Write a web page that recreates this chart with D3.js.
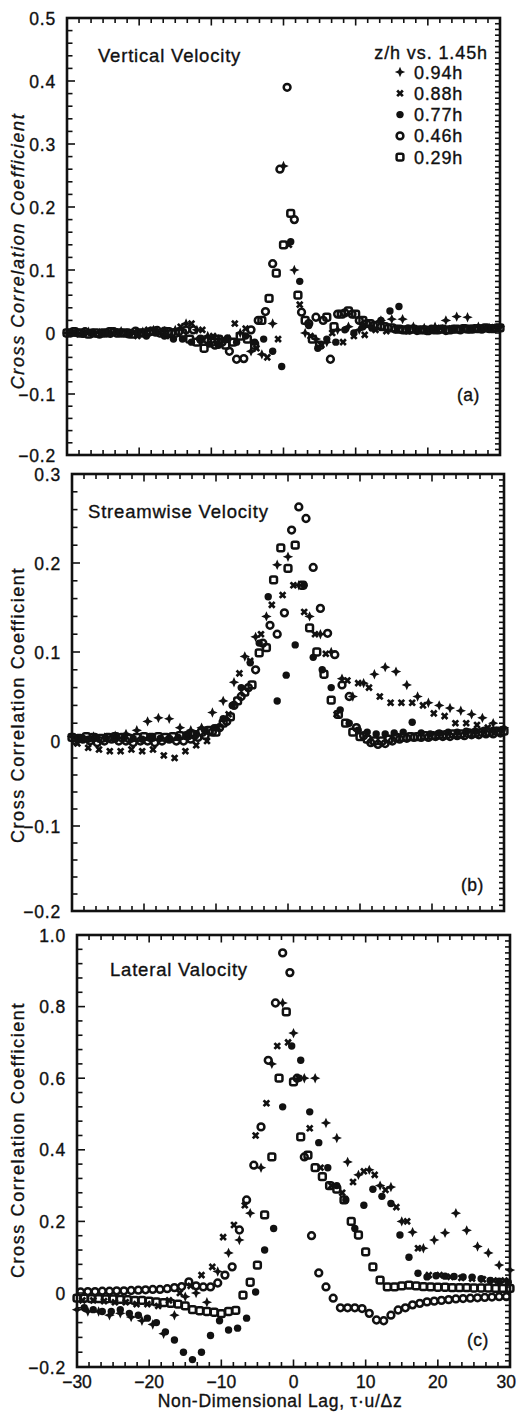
<!DOCTYPE html>
<html><head><meta charset="utf-8">
<script src="https://cdn.jsdelivr.net/npm/d3@7"></script>
<style>
body{margin:0;background:#fff}
text{font-family:"Liberation Sans",Arial,Helvetica,sans-serif;fill:#111;stroke:#111;stroke-width:0.35px}
</style>
</head><body>
<svg id="chart" width="518" height="1413"></svg>
<script>
// ---------- data ----------
const seriesNames = ["0.94h", "0.88h", "0.77h", "0.46h", "0.29h"];
const seriesSymbols = ["plus", "cross", "dot", "circle", "square"];
const lagStart = [-30, -29.25, -29, -29.5, -30];
const lagStep = [1.5, 1.5, 1.25, 1, 1];
const panelTitles = ["Vertical Velocity", "Streamwise Velocity", "Lateral Valocity"];
const panelTags = ["(a)", "(b)", "(c)"];
const legendTitle = "z/h vs. 1.45h";
const yLabel = "Cross Correlation Coefficient";
const xLabel = "Non-Dimensional Lag, \u03C4\u00B7u/\u0394z";
const xTickValues = [-30, -20, -10, 0, 10, 20, 30];
const xTickLabels = ["\u221230", "\u221220", "\u221210", "0", "10", "20", "30"];
const yTicksA = [-0.2, -0.1, 0, 0.1, 0.2, 0.3, 0.4, 0.5];
const yTickLabelsA = ["\u22120.2", "\u22120.1", "0", "0.1", "0.2", "0.3", "0.4", "0.5"];
const yTicksB = [-0.2, -0.1, 0, 0.1, 0.2, 0.3];
const yTickLabelsB = ["\u22120.2", "\u22120.1", "0", "0.1", "0.2", "0.3"];
const yTicksC = [-0.2, 0, 0.2, 0.4, 0.6, 0.8, 1.0];
const yTickLabelsC = ["\u22120.2", "0", "0.2", "0.4", "0.6", "0.8", "1.0"];

// (a) vertical velocity
const vertical094 = [0.0, 0.0, 0.002, 0.0, 0.0, 0.003, 0.0, 0.002, 0.005, 0.003, 0.005, 0.015, 0.005, -0.005, -0.01, -0.01, 0.0, -0.03, -0.035, 0.015, 0.265, 0.1, 0.0, -0.01, -0.015, 0.005, 0.01, 0.005, 0.01, 0.02, 0.022, 0.022, 0.01, 0.008, 0.01, 0.02, 0.026, 0.025, 0.01, 0.008, 0.01];
const vertical088 = [0.0, 0.0, -0.002, 0.0, 0.002, 0.0, -0.005, 0.005, 0.0, -0.005, 0.01, 0.015, 0.005, -0.005, -0.01, 0.015, 0.007, -0.025, -0.04, -0.01, 0.14, 0.045, -0.005, -0.02, 0.0, -0.015, -0.005, -0.003, 0.005, 0.003, 0.005, 0.003, 0.006, 0.005, 0.008, 0.007, 0.006, 0.008, 0.008, 0.009];
const vertical077 = [0.0, -0.002, 0.0, 0.0, -0.002, 0.0, -0.003, 0.0, -0.005, 0.0, -0.005, -0.01, -0.01, -0.015, -0.012, -0.018, -0.02, -0.008, -0.015, -0.005, -0.015, -0.01, -0.03, -0.055, 0.145, 0.082, 0.012, -0.025, -0.01, -0.015, 0.005, 0.0, 0.01, 0.008, 0.02, 0.035, 0.042, 0.008, 0.005, 0.006, 0.005, 0.007, 0.006, 0.006, 0.007, 0.007, 0.008, 0.008];
const vertical046 = [0.0, 0.0, 0.002, 0.0, -0.002, 0.0, 0.002, 0.0, 0.0, 0.003, 0.0, 0.002, 0.004, 0.003, 0.0, 0.002, 0.005, 0.005, -0.01, -0.012, -0.02, -0.015, -0.03, -0.043, -0.042, 0.005, 0.02, 0.034, 0.11, 0.26, 0.39, 0.18, 0.033, 0.015, 0.025, 0.02, -0.043, 0.03, 0.032, 0.03, 0.02, 0.015, 0.012, 0.01, 0.008, 0.006, 0.005, 0.005, 0.004, 0.005, 0.006, 0.005, 0.004, 0.006, 0.005, 0.006, 0.007, 0.006, 0.007, 0.008];
const vertical029 = [0.0, 0.002, 0.0, -0.002, 0.0, 0.0, 0.002, 0.0, 0.0, -0.002, 0.0, 0.0, 0.003, 0.0, 0.002, 0.0, 0.0, -0.01, -0.015, -0.025, -0.015, -0.01, -0.02, -0.015, -0.005, -0.01, -0.02, 0.02, 0.055, 0.095, 0.14, 0.19, 0.06, 0.02, -0.01, -0.02, 0.025, 0.01, 0.03, 0.035, 0.03, 0.02, 0.015, 0.012, 0.01, 0.008, 0.006, 0.005, 0.006, 0.005, 0.004, 0.005, 0.006, 0.005, 0.006, 0.007, 0.006, 0.007, 0.008, 0.007, 0.008];

// (b) streamwise velocity
const streamwise094 = [0.005, 0.003, 0.005, 0.004, 0.006, 0.008, 0.012, 0.022, 0.026, 0.025, 0.015, 0.012, 0.015, 0.032, 0.045, 0.066, 0.095, 0.117, 0.14, 0.198, 0.207, 0.175, 0.14, 0.12, 0.1, 0.07, 0.05, 0.065, 0.075, 0.083, 0.078, 0.063, 0.05, 0.043, 0.04, 0.037, 0.034, 0.03, 0.026, 0.02, 0.015];
const streamwise088 = [-0.003, -0.008, -0.01, -0.012, -0.012, -0.01, -0.012, -0.01, -0.017, -0.02, -0.012, -0.005, 0.0, 0.015, 0.03, 0.076, 0.09, 0.12, 0.153, 0.164, 0.175, 0.145, 0.12, 0.098, 0.03, 0.068, 0.065, 0.06, 0.05, 0.043, 0.043, 0.043, 0.04, 0.031, 0.028, 0.02, 0.02, 0.018, 0.015, 0.012];
const streamwise077 = [0.003, 0.002, 0.004, 0.003, 0.002, 0.004, 0.003, 0.002, 0.004, 0.003, 0.002, 0.004, 0.006, 0.008, 0.012, 0.015, 0.025, 0.04, 0.06, 0.088, 0.11, 0.162, 0.045, 0.074, 0.108, 0.175, 0.094, 0.08, 0.06, 0.035, 0.02, 0.012, 0.01, 0.008, 0.008, 0.009, 0.01, 0.021, 0.009, 0.008, 0.009, 0.01, 0.01, 0.011, 0.011, 0.012, 0.012, 0.013];
const streamwise046 = [0.0, 0.002, 0.0, -0.002, 0.0, 0.002, 0.0, 0.0, -0.002, 0.0, 0.0, -0.002, 0.0, 0.002, 0.0, 0.0, 0.002, 0.004, 0.006, 0.01, 0.015, 0.022, 0.04, 0.05, 0.06, 0.08, 0.11, 0.13, 0.12, 0.144, 0.237, 0.263, 0.25, 0.195, 0.149, 0.121, 0.097, 0.063, 0.05, 0.015, 0.006, -0.002, -0.004, -0.003, 0.0, 0.002, 0.003, 0.004, 0.004, 0.004, 0.005, 0.005, 0.005, 0.006, 0.006, 0.007, 0.007, 0.008, 0.008, 0.009];
const streamwise029 = [0.004, 0.003, 0.005, 0.004, 0.003, 0.004, 0.005, 0.004, 0.003, 0.004, 0.005, 0.004, 0.005, 0.004, 0.005, 0.006, 0.006, 0.007, 0.01, 0.012, 0.01, 0.02, 0.027, 0.045, 0.055, 0.063, 0.099, 0.105, 0.181, 0.217, 0.194, 0.22, 0.175, 0.127, 0.1, 0.075, 0.046, 0.03, 0.02, 0.01, 0.005, 0.002, 0.0, 0.0, 0.002, 0.004, 0.004, 0.005, 0.005, 0.006, 0.006, 0.007, 0.007, 0.008, 0.008, 0.009, 0.009, 0.01, 0.01, 0.011, 0.011];

// (c) lateral velocity
const lateral094 = [-0.045, -0.05, -0.05, -0.06, -0.055, -0.065, -0.075, -0.085, -0.11, -0.06, -0.01, 0.0, -0.025, 0.06, 0.112, 0.148, 0.223, 0.35, 0.64, 0.81, 0.726, 0.6, 0.6, 0.475, 0.433, 0.366, 0.33, 0.344, 0.3, 0.296, 0.2, 0.17, 0.125, 0.148, 0.168, 0.223, 0.175, 0.13, 0.112, 0.078, 0.064];
const lateral088 = [-0.02, -0.02, -0.022, -0.025, -0.025, -0.03, -0.03, -0.035, -0.02, 0.0, 0.02, 0.05, 0.073, 0.156, 0.19, 0.245, 0.44, 0.53, 0.69, 0.7, 0.6, 0.46, 0.35, 0.3, 0.28, 0.31, 0.34, 0.33, 0.288, 0.24, 0.2, 0.125, 0.05, 0.05, 0.045, 0.042, 0.04, 0.038, 0.035, 0.035];
const lateral077 = [-0.04, -0.045, -0.05, -0.05, -0.045, -0.055, -0.06, -0.068, -0.08, -0.105, -0.127, -0.16, -0.18, -0.16, -0.115, -0.075, -0.1, -0.095, -0.068, 0.003, 0.12, 0.18, 0.52, 0.69, 0.65, 0.506, 0.42, 0.35, 0.3, 0.26, 0.18, 0.245, 0.29, 0.27, 0.25, 0.162, 0.1, 0.055, 0.045, 0.048, 0.047, 0.046, 0.045, 0.044, 0.04, 0.035, 0.033, 0.03];
const lateral046 = [0.003, 0.004, 0.004, 0.005, 0.005, 0.006, 0.006, 0.007, 0.008, 0.009, 0.01, 0.01, 0.012, 0.015, 0.018, 0.031, 0.02, 0.017, 0.017, 0.028, 0.05, 0.073, 0.176, 0.26, 0.357, 0.464, 0.65, 0.81, 0.95, 0.895, 0.6, 0.38, 0.16, 0.056, 0.017, -0.014, -0.04, -0.04, -0.04, -0.042, -0.055, -0.073, -0.075, -0.06, -0.046, -0.04, -0.032, -0.028, -0.024, -0.022, -0.02, -0.018, -0.016, -0.015, -0.014, -0.013, -0.012, -0.011, -0.01, -0.01];
const lateral029 = [-0.014, -0.014, -0.015, -0.015, -0.016, -0.016, -0.017, -0.018, -0.02, -0.02, -0.022, -0.024, -0.026, -0.028, -0.03, -0.035, -0.045, -0.048, -0.05, -0.052, -0.056, -0.05, -0.047, -0.006, 0.03, 0.078, 0.218, 0.38, 0.6, 0.785, 0.59, 0.436, 0.385, 0.35, 0.325, 0.3, 0.29, 0.26, 0.2, 0.162, 0.115, 0.073, 0.036, 0.017, 0.017, 0.02, 0.022, 0.02, 0.018, 0.017, 0.016, 0.016, 0.015, 0.015, 0.015, 0.014, 0.014, 0.014, 0.013, 0.013, 0.013];

const panelSeries = [
  [vertical094, vertical088, vertical077, vertical046, vertical029],
  [streamwise094, streamwise088, streamwise077, streamwise046, streamwise029],
  [lateral094, lateral088, lateral077, lateral046, lateral029]
];

// ---------- layout ----------
const panels = [
  {x0: 67, x1: 500, yDom: [-0.2, 0, 0.5], yRng: [455, 333, 18], ticks: yTicksA, labels: yTickLabelsA, minor: 0.02, right: 0.1/11, titleXY: [98, 62], tagXY: [457, 401], yLabelY: 251, italic: true},
  {x0: 72, x1: 504, yDom: [-0.2, 0, 0.3], yRng: [911, 741, 474], ticks: yTicksB, labels: yTickLabelsB, minor: 0.02, right: 0.1/15, titleXY: [88, 518], tagXY: [461, 891], yLabelY: 705, italic: false},
  {x0: 77, x1: 510, yDom: [-0.2, 0, 1.0], yRng: [1367, 1293, 935], ticks: yTicksC, labels: yTickLabelsC, minor: 0.04, right: 0.2/12, titleXY: [110, 976], tagXY: [467, 1346], yLabelY: 1140, italic: false}
];

const svg = d3.select("#chart");

function drawMarker(g, type, x, y) {
  if (type === "plus") {
    g.append("path").attr("d", "M0,-5.2L1.6,-1.6L5.2,0L1.6,1.6L0,5.2L-1.6,1.6L-5.2,0L-1.6,-1.6Z")
      .attr("transform", `translate(${x},${y})`).attr("fill", "#111");
  } else if (type === "cross") {
    g.append("path").attr("d", d3.symbol(d3.symbolCross, 36)()).attr("transform", `translate(${x},${y}) rotate(45)`).attr("fill", "#111");
  } else if (type === "dot") {
    g.append("circle").attr("cx", x).attr("cy", y).attr("r", 3.7).attr("fill", "#111");
  } else if (type === "circle") {
    g.append("circle").attr("cx", x).attr("cy", y).attr("r", 3.4).attr("fill", "none").attr("stroke", "#111").attr("stroke-width", 2.5);
  } else if (type === "square") {
    g.append("rect").attr("x", x - 3.4).attr("y", y - 3.4).attr("width", 6.8).attr("height", 6.8).attr("rx", 1.8)
      .attr("fill", "none").attr("stroke", "#111").attr("stroke-width", 2.5);
  }
}

panels.forEach((p, pi) => {
  const x = d3.scaleLinear().domain([-30, 30]).range([p.x0, p.x1]);
  const y = d3.scaleLinear().domain(p.yDom).range(p.yRng);
  const yTop = p.yRng[2], yBot = p.yRng[0];
  const g = svg.append("g");

  // data
  const dg = g.append("g");
  panelSeries[pi].forEach((vals, si) => {
    vals.forEach((v, i) => {
      const lag = lagStart[si] + i * lagStep[si];
      drawMarker(dg, seriesSymbols[si], x(lag), y(v));
    });
  });

  // frame
  g.append("rect").attr("x", p.x0).attr("y", yTop).attr("width", p.x1 - p.x0).attr("height", yBot - yTop)
    .attr("fill", "none").attr("stroke", "#111").attr("stroke-width", 2.6);

  const tk = g.append("g").attr("stroke", "#111").attr("stroke-width", 1.6);
  // x ticks top & bottom every 10/6 units, longer at multiples of 10
  d3.range(0, 37).forEach(k => {
    const v = -30 + k * 10 / 6;
    const major = k % 6 === 0;
    const len = major ? 7.5 : 5;
    tk.append("line").attr("x1", x(v)).attr("x2", x(v)).attr("y1", yBot).attr("y2", yBot - len);
    tk.append("line").attr("x1", x(v)).attr("x2", x(v)).attr("y1", yTop).attr("y2", yTop + len);
  });
  // left ticks
  const yMin = p.yDom[0], yMax = p.yDom[2];
  const nMinor = Math.round((yMax - yMin) / p.minor);
  d3.range(0, nMinor + 1).forEach(k => {
    const v = yMin + k * p.minor;
    const major = p.ticks.some(t => Math.abs(t - v) < 1e-6);
    tk.append("line").attr("x1", p.x0).attr("x2", p.x0 + (major ? 8 : 5.5)).attr("y1", y(v)).attr("y2", y(v));
  });
  // right ticks (dense)
  const nRight = Math.round((yMax - yMin) / p.right);
  d3.range(0, nRight + 1).forEach(k => {
    const v = yMin + k * p.right;
    tk.append("line").attr("x1", p.x1).attr("x2", p.x1 - 5).attr("y1", y(v)).attr("y2", y(v));
  });

  // y tick labels
  p.ticks.forEach((t, i) => {
    g.append("text").attr("x", p.x0 - 11).attr("y", y(t) + 6.5).attr("text-anchor", "end")
      .attr("font-size", 17.5).attr("letter-spacing", 0.8).text(p.labels[i]);
  });

  // y axis title
  g.append("text").attr("transform", `translate(24,${p.yLabelY}) rotate(-90)`).attr("text-anchor", "middle")
    .attr("font-size", 18).attr("letter-spacing", 1.6).attr("font-style", p.italic ? "italic" : "normal").text(yLabel);

  // panel title & tag
  g.append("text").attr("x", p.titleXY[0]).attr("y", p.titleXY[1]).attr("font-size", 18.5).attr("letter-spacing", 0.8).text(panelTitles[pi]);
  g.append("text").attr("x", p.tagXY[0]).attr("y", p.tagXY[1]).attr("font-size", 17.5).attr("letter-spacing", 0.5).text(panelTags[pi]);

  // x tick labels and x title only on last panel
  if (pi === 2) {
    xTickValues.forEach((v, i) => {
      const last = i === xTickValues.length - 1;
      g.append("text").attr("x", last ? 516 : x(v)).attr("y", 1388)
        .attr("text-anchor", last ? "end" : "middle").attr("font-size", 17.5).text(xTickLabels[i]);
    });
    g.append("text").attr("x", 280).attr("y", 1407).attr("text-anchor", "middle").attr("font-size", 17.5)
      .attr("letter-spacing", 0.7).text(xLabel);
  }

  // legend in panel a
  if (pi === 0) {
    g.append("text").attr("x", 488).attr("y", 59).attr("text-anchor", "end").attr("font-size", 18).attr("letter-spacing", 0.9).text(legendTitle);
    const lg = g.append("g");
    seriesNames.forEach((n, si) => {
      const ly = 72 + si * 21.3;
      drawMarker(lg, seriesSymbols[si], 400, ly);
      lg.append("text").attr("x", 414).attr("y", ly + 6.5).attr("font-size", 18).attr("letter-spacing", 0.8).text(n);
    });
  }
});
</script>
</body></html>
